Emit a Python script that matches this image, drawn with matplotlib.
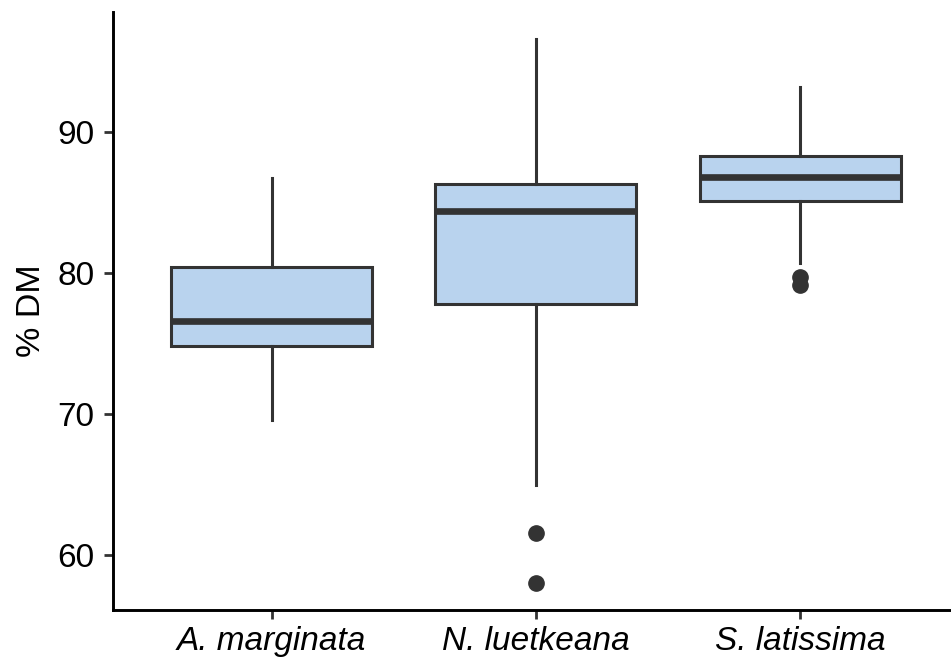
import matplotlib
matplotlib.use("Agg")
import matplotlib.pyplot as plt

plt.rcParams['font.family'] = ['Liberation Sans', 'DejaVu Sans']

categories = ["A. marginata", "N. luetkeana", "S. latissima"]
whisker_low = [69.55, 65.0, 80.75]
q1 = [74.85, 77.8, 85.1]
median = [76.6, 84.45, 86.8]
q3 = [80.45, 86.35, 88.35]
whisker_high = [86.75, 96.6, 93.2]
outliers = [[], [61.6, 58.0], [79.7, 79.2]]
yticks = [60, 70, 80, 90]

stats = []
for i, c in enumerate(categories):
    stats.append(dict(label=c, whislo=whisker_low[i], q1=q1[i], med=median[i],
                      q3=q3[i], whishi=whisker_high[i], fliers=outliers[i]))

fig = plt.figure(figsize=(9.51, 6.57), dpi=100)
ax = fig.add_axes([113/951, 47/657, 845.8/951, 598/657])

edge = "#333333"
ax.bxp(stats, positions=[1, 2, 3], widths=0.76, patch_artist=True,
       showcaps=False,
       boxprops=dict(facecolor="#B9D3EE", edgecolor=edge, linewidth=2.2),
       medianprops=dict(color=edge, linewidth=4.8, solid_capstyle='butt'),
       whiskerprops=dict(color=edge, linewidth=2.2),
       flierprops=dict(marker='o', markerfacecolor=edge, markeredgecolor=edge,
                       markersize=11))

ax.set_xlim(0.4, 3.6)
ax.set_ylim(56.1, 98.54)
ax.set_yticks(yticks)
ax.set_yticklabels([str(v) for v in yticks])
ax.set_xticks([1, 2, 3])
ax.set_xticklabels(categories, fontstyle='italic')

for s in ['top', 'right']:
    ax.spines[s].set_visible(False)
for s in ['left', 'bottom']:
    ax.spines[s].set_linewidth(2.1)
    ax.spines[s].set_color('black')

ax.tick_params(axis='both', length=6.5, width=2, color=edge, labelsize=24,
               labelcolor='black')
ax.tick_params(axis='y', pad=7)
ax.tick_params(axis='x', pad=5)
ax.set_ylabel("% DM", fontsize=24.5, labelpad=7)

fig.savefig("out.png", dpi=100)
